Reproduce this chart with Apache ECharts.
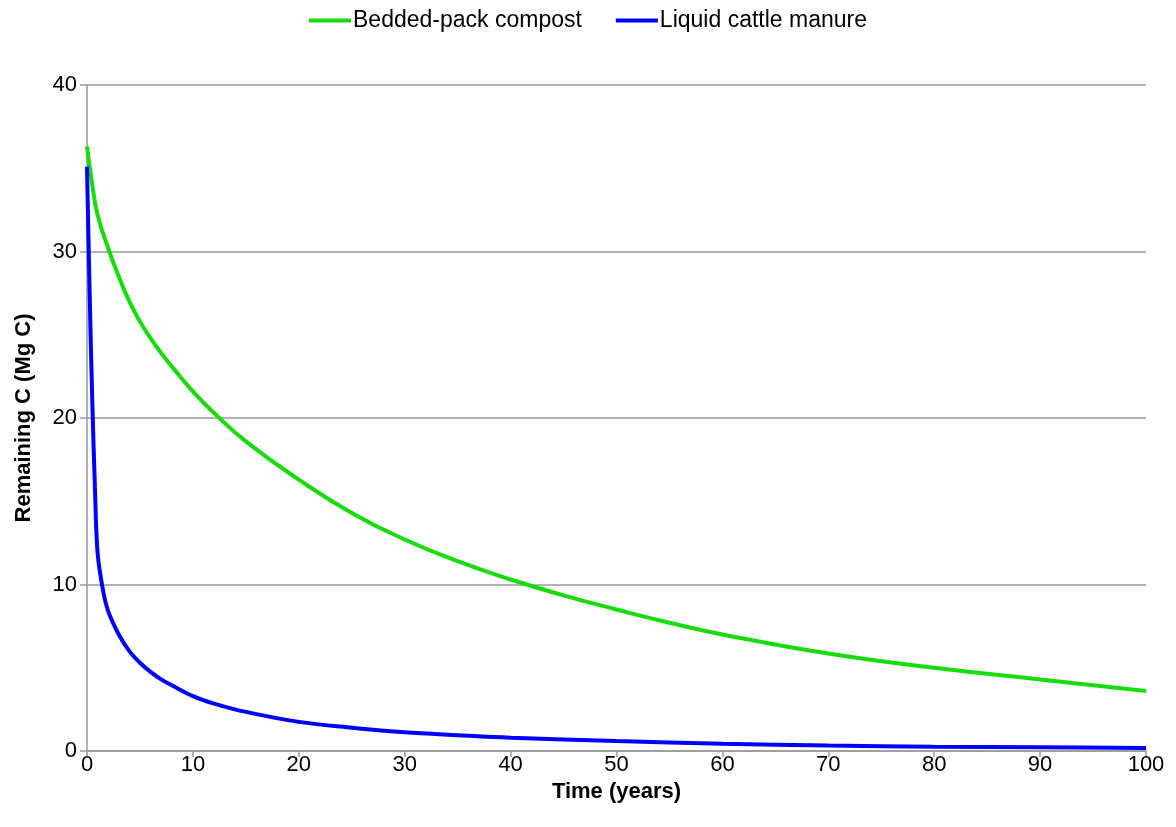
<!DOCTYPE html>
<html>
<head>
<meta charset="utf-8">
<script src="https://cdn.jsdelivr.net/npm/echarts@6/dist/echarts.min.js"></script>
<style>
html,body{margin:0;padding:0;background:#fff;}
#chart{width:1176px;height:827px;}
</style>
</head>
<body>
<div id="chart"></div>
<script>
const seriesNames = ["Bedded-pack compost", "Liquid cattle manure"];
const compostYears = [0, 0.5, 1, 2, 3, 4, 5, 6, 7, 8, 10, 12, 15, 20, 25, 30, 35, 40, 45, 50, 55, 60, 70, 80, 90, 100];
const compostC = [36.3, 34.0, 32.2, 30.2, 28.5, 27.0, 25.8, 24.8, 23.9, 23.1, 21.6, 20.3, 18.6, 16.3, 14.3, 12.7, 11.4, 10.3, 9.35, 8.5, 7.7, 7.0, 5.85, 5.0, 4.3, 3.6];
const manureYears = [0, 0.25, 0.5, 0.75, 1, 1.5, 2, 3, 4, 5, 6, 7, 8, 10, 12, 15, 20, 25, 30, 35, 40, 50, 60, 70, 80, 90, 100];
const manureC = [35.1, 27.5, 21.0, 15.8, 11.9, 9.7, 8.4, 7.0, 6.0, 5.3, 4.75, 4.3, 3.95, 3.3, 2.85, 2.35, 1.75, 1.4, 1.12, 0.95, 0.8, 0.6, 0.44, 0.33, 0.26, 0.22, 0.18];
const xTicks = {min: 0, max: 100, interval: 10};
const yTicks = {min: 0, max: 40, interval: 10};

const pairs = (xs, ys) => xs.map((x, i) => [x, ys[i]]);
const font = "'Liberation Sans', Arial, sans-serif";

const chart = echarts.init(document.getElementById('chart'), null, {renderer: 'canvas'});
chart.setOption({
  animation: false,
  backgroundColor: '#ffffff',
  textStyle: {fontFamily: font},
  legend: {
    top: 4,
    left: 'center',
    itemWidth: 42,
    itemHeight: 4,
    itemGap: 34,
    icon: 'rect',
    textStyle: {fontSize: 23, color: '#000', fontFamily: font, padding: [0, 0, 0, -3]},
    data: seriesNames
  },
  grid: {left: 87, right: 30, top: 85, bottom: 76, containLabel: false},
  xAxis: {
    type: 'value',
    min: xTicks.min, max: xTicks.max, interval: xTicks.interval,
    name: 'Time (years)',
    nameLocation: 'middle',
    nameGap: 24,
    nameTextStyle: {fontSize: 22, fontWeight: 'bold', color: '#000', fontFamily: font},
    axisLine: {lineStyle: {color: '#999999', width: 1.5}},
    axisTick: {show: true, length: 6, lineStyle: {color: '#999999', width: 1.5}},
    axisLabel: {fontSize: 22, color: '#000', margin: 3, fontFamily: font},
    splitLine: {show: false}
  },
  yAxis: {
    type: 'value',
    min: yTicks.min, max: yTicks.max, interval: yTicks.interval,
    name: 'Remaining C (Mg C)',
    nameLocation: 'middle',
    nameGap: 52,
    nameTextStyle: {fontSize: 22, fontWeight: 'bold', color: '#000', fontFamily: font},
    axisLine: {show: true, lineStyle: {color: '#999999', width: 1.5}},
    axisTick: {show: true, length: 7, lineStyle: {color: '#999999', width: 1.5}},
    axisLabel: {fontSize: 22, color: '#000', margin: 10, fontFamily: font},
    splitLine: {show: true, lineStyle: {color: '#999999', width: 1.5}}
  },
  series: [
    {
      name: seriesNames[0],
      type: 'line',
      data: pairs(compostYears, compostC),
      showSymbol: false,
      smooth: 0.5,
      lineStyle: {color: '#18dc0a', width: 4},
      itemStyle: {color: '#18dc0a'}
    },
    {
      name: seriesNames[1],
      type: 'line',
      data: pairs(manureYears, manureC),
      showSymbol: false,
      smooth: 0.35,
      lineStyle: {color: '#0000ff', width: 4},
      itemStyle: {color: '#0000ff'}
    }
  ]
});
</script>
</body>
</html>
